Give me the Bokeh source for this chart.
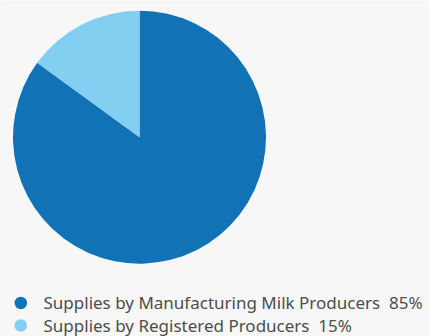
from bokeh.plotting import figure
from bokeh.models import ColumnDataSource, Range1d
from bokeh.core.properties import value
from bokeh.embed import file_html
from bokeh.resources import INLINE
import math

categories = ["Supplies by Manufacturing Milk Producers", "Supplies by Registered Producers"]
shares = [85, 15]
colors = ["#1172b5", "#82cff1"]

W, H = 429, 336
p = figure(width=W, height=H, output_backend="svg", toolbar_location=None,
           x_range=Range1d(0, W), y_range=Range1d(H, 0), min_border=0)
p.axis.visible = False
p.grid.visible = False
p.outline_line_color = None
p.background_fill_color = "#f7f7f7"
p.border_fill_color = "#f7f7f7"

total = sum(shares)
starts, ends = [], []
cum = 0.0
for s in shares:
    # clockwise from 12 o'clock (angles are screen counterclockwise)
    end = math.pi / 2 - cum / total * 2 * math.pi
    cum += s
    start = math.pi / 2 - cum / total * 2 * math.pi
    starts.append(start)
    ends.append(end)

src = ColumnDataSource(dict(start=starts, end=ends, color=colors))
p.wedge(x=139, y=136.7, radius=126.5, start_angle="start", end_angle="end",
        fill_color="color", line_color=None, source=src)

labels = [f"{c}\u00a0\u00a0{v}%" for c, v in zip(categories, shares)]
ly = [302.5, 325.0]
leg = ColumnDataSource(dict(y=ly, ty=[y - 0.5 for y in ly], label=labels, color=colors))
p.scatter(x=20.3, y="y", size=12.5, marker="circle", fill_color="color",
          line_color=None, source=leg)
p.text(x=43, y="ty", text="label", text_font=value("Noto Sans"), text_font_size="17px",
       text_color="#4d4d4d", text_baseline="middle", source=leg)

open("out.html", "w").write(file_html(p, INLINE))
